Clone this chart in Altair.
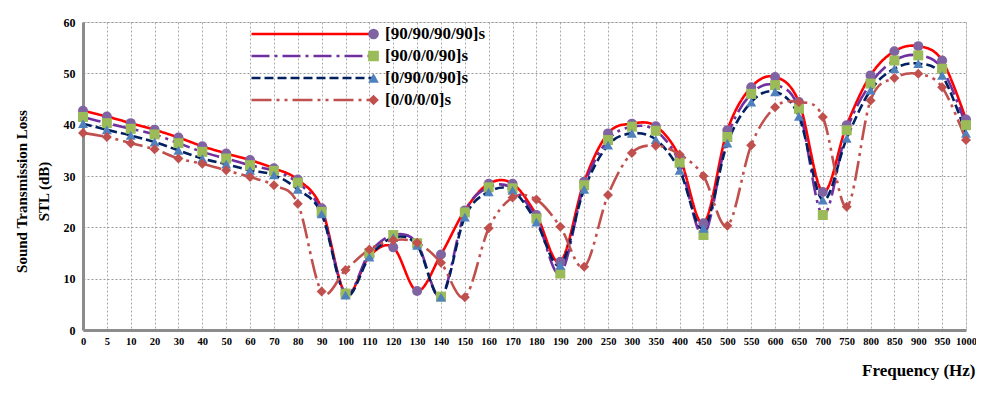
import altair as alt
import pandas as pd

freqs = ["0", "5", "10", "20", "30", "40", "50", "60", "70", "80", "90", "100",
         "110", "120", "130", "140", "150", "160", "170", "180", "190", "200",
         "250", "300", "350", "400", "450", "500", "550", "600", "650", "700",
         "750", "800", "850", "900", "950", "1000"]

stl_90_90_90_90 = [42.7, 41.6, 40.3, 39.0, 37.5, 35.8, 34.4, 33.1, 31.5, 29.3, 23.7, 7.1,
                   14.4, 16.1, 7.6, 14.7, 23.3, 28.5, 28.5, 22.4, 13.3, 28.9,
                   38.3, 40.2, 39.7, 33.7, 20.8, 38.9, 47.3, 49.3, 44.4, 26.9,
                   39.9, 49.6, 54.3, 55.3, 52.5, 41.0]
stl_90_0_0_90 = [41.5, 40.3, 39.2, 38.1, 36.4, 34.7, 33.4, 32.1, 31.0, 28.7, 23.0, 7.1,
                 15.0, 18.5, 16.9, 6.5, 22.9, 27.8, 27.6, 21.7, 11.0, 28.2,
                 37.0, 39.6, 38.8, 32.6, 18.5, 37.6, 46.0, 47.7, 43.1, 22.4,
                 38.9, 48.0, 52.5, 53.5, 50.9, 39.9]
stl_0_90_0_90 = [40.2, 39.0, 37.9, 36.6, 35.0, 33.4, 32.3, 31.1, 30.2, 27.4, 22.6, 6.8,
                 14.2, 18.0, 16.5, 6.4, 22.0, 26.9, 27.2, 21.0, 12.6, 27.4,
                 36.0, 38.3, 37.1, 31.1, 19.8, 36.4, 44.4, 46.4, 41.6, 25.3,
                 37.3, 46.7, 50.9, 51.9, 49.6, 38.3]
stl_0_0_0_0 = [38.4, 37.6, 36.4, 35.2, 33.4, 32.4, 31.1, 29.8, 28.2, 24.6, 7.5, 11.7,
               15.7, 17.5, 17.0, 13.1, 6.4, 19.8, 25.8, 25.4, 20.1, 12.3,
               26.3, 34.5, 35.9, 34.2, 30.0, 20.3, 36.0, 43.4, 44.4, 41.5,
               24.0, 44.7, 49.1, 49.9, 47.3, 37.0]

series_names = ["[90/90/90/90]s", "[90/0/0/90]s", "[0/90/0/90]s", "[0/0/0/0]s"]
series_ids = ["a", "b", "c", "d"]
series_values = [stl_90_90_90_90, stl_90_0_0_90, stl_0_90_0_90, stl_0_0_0_0]

line_colors = ["#FF0000", "#7030A0", "#002060", "#C0504D"]
line_dashes = [[1, 0], [18, 5, 3, 5], [9, 4], [20, 5, 3, 5, 3, 5]]
marker_colors = ["#8064A2", "#9BBB59", "#4F81BD", "#C0504D"]
marker_shapes = ["circle", "square", "triangle-up", "diamond"]

rows = []
for name, sid, vals in zip(series_names, series_ids, series_values):
    for i, (f, v) in enumerate(zip(freqs, vals)):
        rows.append({"freq": f, "stl": v, "series": name, "sid": sid, "idx": i})
df = pd.DataFrame(rows)

FONT = "Liberation Serif"

x_enc = alt.X(
    "freq:O", sort=freqs,
    scale=alt.Scale(type="point", padding=0),
    axis=alt.Axis(
        title="Frequency (Hz)", labelAngle=0, labelFont=FONT, labelFontSize=10.5,
        labelFontWeight="bold", labelColor="black", labelPadding=6, labelOverlap=False,
        labelFlush=False, domainColor="#8C8C8C", domainWidth=3, ticks=False,
        grid=True, gridColor="#AAAAAA", gridDash=[2, 2], gridWidth=1,
        titleFont=FONT, titleFontSize=17, titleFontWeight="bold", titleColor="black",
        titleX=892, titleY=45, titleAlign="right", titleBaseline="alphabetic",
    ),
)
y_enc = alt.Y(
    "stl:Q",
    scale=alt.Scale(domain=[0, 60]),
    axis=alt.Axis(
        title=["Sound Transmission Loss", "STL (dB)"], values=[0, 10, 20, 30, 40, 50, 60],
        labelFont=FONT, labelFontSize=12, labelFontWeight="bold", labelColor="black",
        labelPadding=8, ticks=False, domainColor="#8C8C8C", domainWidth=3,
        grid=True, gridColor="#999999", gridDash=[2, 2], gridWidth=1,
        titleFont=FONT, titleFontSize=15, titleFontWeight="bold", titleColor="black",
        titleX=-57, titleY=169, titleAlign="center", titleBaseline="alphabetic",
        titleLineHeight=22, titleAngle=270,
    ),
)

line_legend = alt.Legend(
    orient="none", legendX=167, legendY=1.35, title=None, symbolType="stroke",
    symbolSize=15376, symbolStrokeWidth=2.5, labelExpr="''", clipHeight=21.3,
    rowPadding=0, padding=0, labelOffset=0, symbolOffset=0,
)
point_legend = alt.Legend(
    orient="none", legendX=282, legendY=1.35, title=None, symbolSize=115,
    symbolStrokeWidth=0, labelFont=FONT, labelFontSize=17, labelFontWeight="bold",
    labelColor="black", clipHeight=21.3, rowPadding=0, padding=0, labelOffset=3,
    symbolOffset=0,
)

base = alt.Chart(df)

lines = base.mark_line(strokeWidth=2.6, interpolate="cardinal").encode(
    x=x_enc,
    y=y_enc,
    color=alt.Color("sid:N", scale=alt.Scale(domain=series_ids, range=line_colors),
                    legend=line_legend),
    strokeDash=alt.StrokeDash("sid:N", scale=alt.Scale(domain=series_ids, range=line_dashes),
                              legend=line_legend),
    order="idx:Q",
)

points = base.mark_point(filled=True, size=100, opacity=1, strokeWidth=0).encode(
    x=x_enc,
    y=y_enc,
    shape=alt.Shape("series:N", scale=alt.Scale(domain=series_names, range=marker_shapes),
                    legend=point_legend),
    fill=alt.Fill("series:N", scale=alt.Scale(domain=series_names, range=marker_colors),
                  legend=point_legend),
)

chart = alt.layer(lines, points).properties(
    width=883, height=308,
    autosize=alt.AutoSizeParams(type="none"),
    padding={"left": 75, "top": 14, "right": 10, "bottom": 65},
).configure_view(stroke=None).configure(background="white")

chart.save("out.html", embed_options={"renderer": "svg", "actions": False})
